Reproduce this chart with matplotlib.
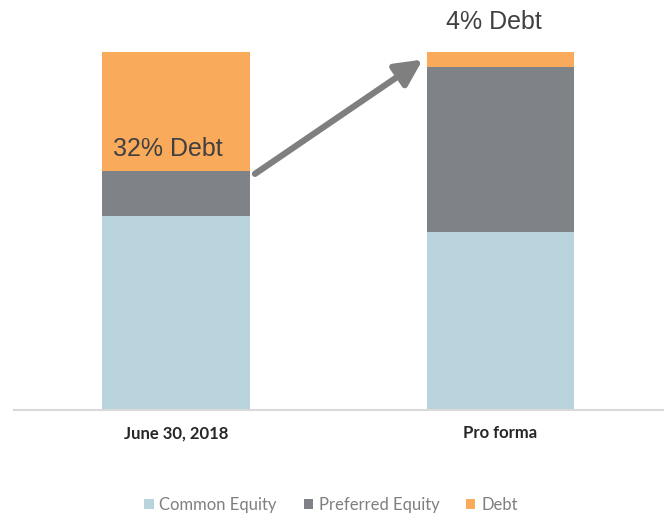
import matplotlib.pyplot as plt
import numpy as np

categories = ["June 30, 2018", "Pro forma"]
common_equity = [54.0, 49.8]
preferred_equity = [12.8, 45.8]
debt = [33.2, 4.4]
series_names = ["Common Equity", "Preferred Equity", "Debt"]
colors = ["#B9D3DC", "#7F8387", "#F9AA5A"]

plt.rcParams['font.family'] = ['Lato', 'DejaVu Sans']

fig = plt.figure(figsize=(6.66, 5.15), dpi=100)
ax = fig.add_axes([0.021, 0.204, 0.974, 0.777])

x = np.arange(len(categories))
w = 0.455
bottom = np.zeros(len(categories))
for vals, name, c in zip([common_equity, preferred_equity, debt], series_names, colors):
    ax.bar(x, vals, w, bottom=bottom, color=c, label=name, linewidth=0)
    bottom += np.array(vals)

ax.set_xlim(-0.5, 1.5)
ax.set_ylim(0, 111.7)
for s in ['top', 'right', 'left']:
    ax.spines[s].set_visible(False)
ax.spines['bottom'].set_color('#D9D9D9')
ax.spines['bottom'].set_linewidth(1.5)
ax.set_yticks([])
ax.set_xticks(x)
ax.set_xticklabels(categories, fontsize=12, fontweight='bold', color='#262626')
ax.tick_params(axis='x', length=0, pad=11)

# annotations
ax.text(-0.195, common_equity[0] + preferred_equity[0] + 6, "32% Debt",
        fontsize=18, color='#404040', family=['Liberation Sans', 'DejaVu Sans'],
        ha='left', va='center')
ax.text(0.98, 108.4, "4% Debt", fontsize=18, color='#404040',
        family=['Liberation Sans', 'DejaVu Sans'], ha='center', va='center', clip_on=False)
ax.annotate("", xy=(0.76, 97.8), xytext=(0.243, 65.9),
            arrowprops=dict(arrowstyle='-|>,head_length=0.8,head_width=0.4',
                            color='#7F7F7F', lw=4.5, mutation_scale=20,
                            shrinkA=0, shrinkB=0))

fig.legend(loc='center', ncol=3, frameon=False, fontsize=12,
           bbox_to_anchor=(0.497, 0.02), handlelength=0.55, handleheight=0.55,
           handletextpad=0.35, columnspacing=1.6, labelcolor='#7F7F7F')

fig.savefig('out.png', dpi=100)
